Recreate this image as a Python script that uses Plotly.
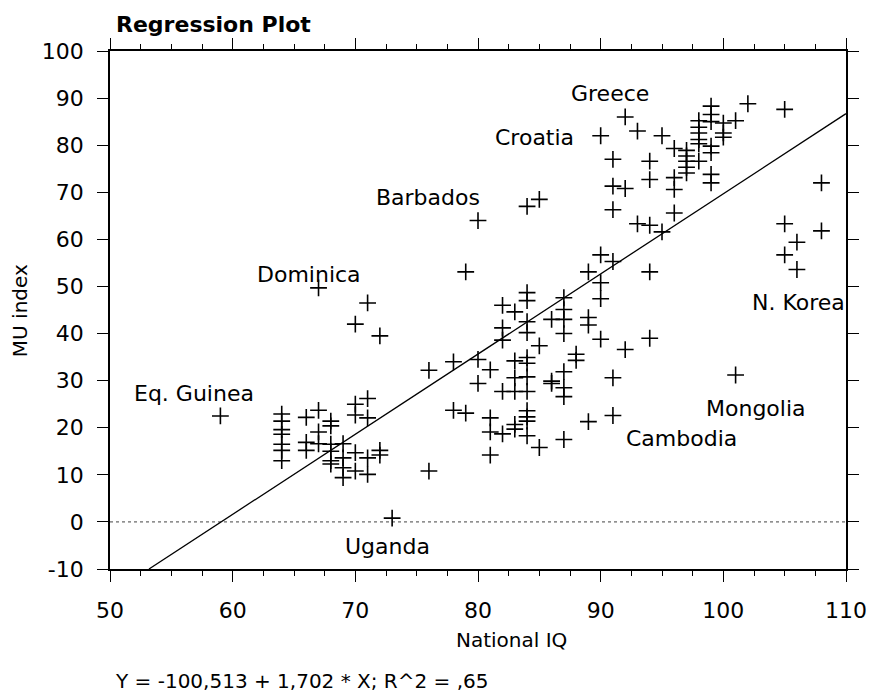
import plotly.graph_objects as go

# ---- data ----
iq = [59,
      64, 64, 64, 64, 64, 64, 64,
      66, 66, 66,
      67, 67, 67, 67,
      68, 68, 68, 68, 68, 68,
      69, 69, 69, 69,
      70, 70, 70, 70, 70,
      71, 71, 71, 71, 71,
      72, 72, 72,
      73,
      76, 76,
      78, 78,
      79, 79,
      80, 80, 80,
      81, 81, 81, 81,
      82, 82, 82, 82, 82,
      83, 83, 83, 83, 83, 83,
      84, 84, 84, 84, 84, 84, 84, 84, 84, 84, 84, 84, 84,
      85, 85, 85,
      86, 86, 86,
      87, 87, 87, 87, 87, 87, 87, 87,
      88, 88,
      89, 89, 89, 89,
      90, 90, 90, 90, 90,
      91, 91, 91, 91, 91, 91,
      92, 92, 92,
      93, 93,
      94, 94, 94, 94, 94,
      95, 95,
      96, 96, 96, 96,
      97, 97, 97, 97, 97,
      98, 98, 98, 98, 98, 98,
      99, 99, 99, 99, 99, 99, 99,
      100, 100, 100,
      101, 101,
      102,
      105, 105, 105,
      106, 106,
      108, 108]

mu = [22.5,
      22.9, 21.4, 19.6, 18.6, 16.5, 15.2, 13.0,
      22.2, 16.9, 15.2,
      49.7, 23.7, 19.1, 16.6,
      21.4, 20.4, 16.5, 15.0, 13.0, 12.3,
      16.6, 13.6, 11.5, 9.4,
      42.0, 25.0, 22.7, 14.7, 10.8,
      46.5, 26.2, 22.1, 13.6, 10.1,
      39.5, 15.2, 14.2,
      0.8,
      32.2, 10.8,
      34.0, 23.7,
      53.1, 23.1,
      64.0, 34.5, 29.4,
      32.3, 22.1, 19.1, 14.2,
      46.0, 41.2, 38.6, 27.7, 18.7,
      44.6, 34.2, 30.6, 27.7, 20.7, 19.7,
      67.0, 48.7, 47.0, 42.5, 40.2, 34.9, 33.7, 30.8, 27.7, 23.6, 22.3, 21.4, 18.3,
      68.5, 37.4, 15.8,
      43.0, 29.9, 29.4,
      47.6, 45.1, 43.0, 40.0, 31.9, 28.5, 26.6, 17.5,
      35.6, 34.3,
      53.1, 43.4, 41.8, 21.3,
      82.0, 56.7, 50.8, 47.4, 38.8,
      77.0, 71.3, 66.3, 55.3, 30.6, 22.6,
      86.0, 70.8, 36.6,
      83.0, 63.3,
      76.6, 72.7, 63.0, 53.1, 39.0,
      82.0, 61.6,
      79.3, 73.1, 70.6, 65.6,
      78.9, 77.7, 76.6, 75.3, 74.1,
      85.2, 83.8, 82.6, 81.2, 80.3, 76.6,
      88.3, 86.5, 85.0, 79.8, 78.4, 73.8, 72.0,
      84.7, 82.6, 81.7,
      85.2, 31.2,
      88.8,
      87.6, 63.3, 56.7,
      59.4, 53.6,
      72.0, 61.8]

intercept = -100.513
slope = 1.702

label_names = ["Greece", "Croatia", "Barbados", "Dominica", "Eq. Guinea",
               "N. Korea", "Mongolia", "Cambodia", "Uganda"]
label_x = [90.75, 84.6, 75.9, 66.2, 56.85, 106.15, 102.65, 96.6, 72.6]
label_y = [91.0, 81.7, 68.8, 52.6, 27.2, 46.5, 24.0, 17.8, -5.3]

x_ticks = [50, 60, 70, 80, 90, 100, 110]
y_ticks = [-10, 0, 10, 20, 30, 40, 50, 60, 70, 80, 90, 100]

FONT = "DejaVu Sans"

fig = go.Figure()

# regression line
x0 = (-10 - intercept) / slope
x1 = 110
fig.add_trace(go.Scatter(
    x=[x0, x1], y=[intercept + slope * x0, intercept + slope * x1],
    mode="lines", line=dict(color="black", width=1.3),
    hoverinfo="skip", showlegend=False))

# points
fig.add_trace(go.Scatter(
    x=iq, y=mu, mode="markers",
    marker=dict(symbol="cross-thin", size=12,
                line=dict(color="black", width=1.6), color="black"),
    showlegend=False))

# zero reference dotted line
fig.add_shape(type="line", xref="x", yref="y", x0=50, x1=110, y0=0, y1=0,
              line=dict(color="#444444", width=1, dash="dot"), layer="below")

annotations = []
for n, lx, ly in zip(label_names, label_x, label_y):
    annotations.append(dict(x=lx, y=ly, xref="x", yref="y", text=n,
                            showarrow=False, xanchor="center", yanchor="middle",
                            font=dict(family=FONT, size=22, color="black")))

annotations.append(dict(x=0.005, y=1.079, xref="paper", yref="paper",
                        text="<b>Regression Plot</b>", showarrow=False,
                        xanchor="left", yanchor="top",
                        font=dict(family=FONT, size=22, color="black")))
annotations.append(dict(x=0.546, y=-0.137, xref="paper", yref="paper",
                        text="National IQ", showarrow=False,
                        xanchor="center", yanchor="middle",
                        font=dict(family=FONT, size=20, color="black")))
annotations.append(dict(x=-0.1223, y=0.4997, xref="paper", yref="paper",
                        text="MU index", showarrow=False, textangle=-90,
                        xanchor="center", yanchor="middle",
                        font=dict(family=FONT, size=20, color="black")))
annotations.append(dict(x=0.004, y=-0.216, xref="paper", yref="paper",
                        text="Y = -100,513 + 1,702 * X; R^2 = ,65", showarrow=False,
                        xanchor="left", yanchor="middle",
                        font=dict(family=FONT, size=20, color="black")))

axis_common = dict(showgrid=False, zeroline=False, showline=True,
                   linecolor="black", linewidth=1.6, mirror="ticks",
                   ticks="outside", ticklen=11, tickwidth=1.4, tickcolor="black",
                   tickfont=dict(family=FONT, size=22, color="black"))

fig.update_xaxes(range=[50, 110], tickmode="array", tickvals=x_ticks,
                 ticktext=[str(v) for v in x_ticks],
                 minor=dict(dtick=2.5, ticks="outside", ticklen=5,
                            tickwidth=1.2, tickcolor="black"),
                 ticklabelstandoff=10, **axis_common)
fig.update_yaxes(range=[-10, 100], tickmode="array", tickvals=y_ticks,
                 ticktext=[str(v) for v in y_ticks],
                 ticklabelstandoff=9, **axis_common)

fig.update_layout(width=871, height=688,
                  margin=dict(l=102, r=33, t=43, b=127),
                  plot_bgcolor="white", paper_bgcolor="white",
                  annotations=annotations,
                  font=dict(family=FONT, color="black"))

fig.write_html("out.html")
